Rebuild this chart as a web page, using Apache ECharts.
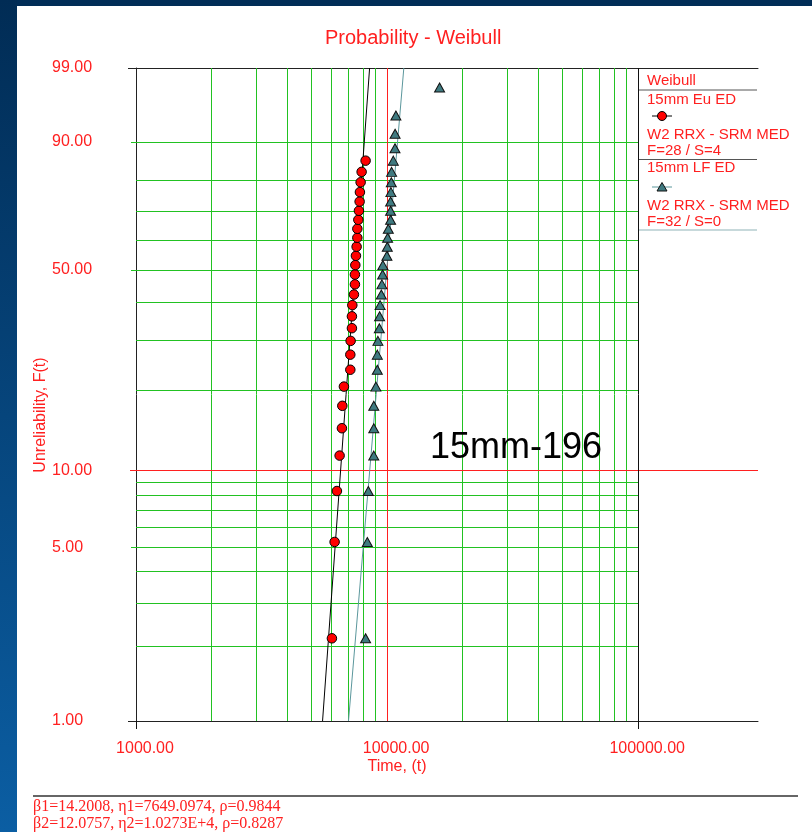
<!DOCTYPE html>
<html><head><meta charset="utf-8">
<script src="https://cdn.jsdelivr.net/npm/echarts@6/dist/echarts.min.js"></script>
<style>html,body{margin:0;padding:0;background:#fff;overflow:hidden}#c{width:812px;height:832px}</style>
</head><body><div id="c"></div>
<script>
// ---------------- data ----------------
const seriesNames = ['15mm Eu ED', '15mm LF ED'];
const seriesInfo = ['W2 RRX - SRM MED', 'W2 RRX - SRM MED'];
const seriesCounts = ['F=28 / S=4', 'F=32 / S=0'];
// failure times (t)
const euTime = [6029, 6180, 6312, 6470, 6608, 6632, 6730, 7137, 7137, 7157,
  7243, 7243, 7269, 7377, 7445, 7445, 7472, 7514, 7562, 7611,
  7611, 7681, 7723, 7773, 7794, 7845, 7917, 8211];
// unreliability F(t) in % (median ranks as plotted)
const euF = [2.16, 5.25, 8.33, 11.42, 14.51, 17.59, 20.68, 23.77, 26.85, 29.94,
  33.02, 36.11, 39.20, 42.28, 45.37, 48.46, 51.54, 54.63, 57.72, 60.80,
  63.89, 66.98, 70.06, 73.15, 76.23, 79.32, 82.41, 85.49];
const lfTime = [8211, 8341, 8418, 8850, 8850, 8850, 9025, 9141, 9141, 9192,
  9311, 9336, 9379, 9483, 9535, 9596, 9622, 9982, 10018, 10046,
  10111, 10326, 10326, 10326, 10355, 10393, 10421, 10585, 10750, 10760,
  10840, 16181];
const lfF = [2.16, 5.25, 8.33, 11.42, 14.51, 17.59, 20.68, 23.77, 26.85, 29.94,
  33.02, 36.11, 39.20, 42.28, 45.37, 48.46, 51.54, 54.63, 57.72, 60.80,
  63.89, 66.98, 70.06, 73.15, 76.23, 79.32, 82.41, 85.49, 88.58, 91.67,
  94.75, 97.84];
// Weibull fit parameters
const fitBeta = [14.2008, 12.0757];
const fitEta = [7649.0974, 10273];
const paramText = ['\u03b21=14.2008, \u03b71=7649.0974, \u03c1=0.9844',
                   '\u03b22=12.0757, \u03b72=1.0273E+4, \u03c1=0.8287'];
// axes
const xMin = 1000, xMax = 300000;
const xTickLabels = [1000, 10000, 100000];
const yTickLabels = [1, 5, 10, 50, 90, 99];
const xGridValues = [2000, 3000, 4000, 5000, 6000, 7000, 8000, 9000,
  20000, 30000, 40000, 50000, 60000, 70000, 80000, 90000];
const yGridValues = [2, 3, 4, 5, 6, 7, 8, 9, 20, 30, 40, 50, 60, 70, 80, 90];
const fLimits = [1, 99];

// ---------------- helpers ----------------
const wy = F => Math.log(-Math.log(1 - F / 100));      // Weibull probability scale
const invWy = v => (1 - Math.exp(-Math.exp(v))) * 100;
const fitTime = (b, eta, F) => eta * Math.pow(-Math.log(1 - F / 100), 1 / b);

const RED = '#ff2020', GREEN = '#22c222', TEAL = '#5b979c', TRI = '#3f7a80';
const FONT = '"Liberation Sans", Arial, sans-serif';
const yMin = wy(fLimits[0]), yMax = wy(fLimits[1]);

const euData = euTime.map((t, i) => [t, wy(euF[i])]);
const lfData = lfTime.map((t, i) => [t, wy(lfF[i])]);
const fit1 = fLimits.map(F => [fitTime(fitBeta[0], fitEta[0], F), wy(F)]);
const fit2 = fLimits.map(F => [fitTime(fitBeta[1], fitEta[1], F), wy(F)]);

const gridLines = [];
xGridValues.forEach(v => gridLines.push({ xAxis: v, lineStyle: { color: GREEN } }));
yGridValues.forEach(F => gridLines.push([
  { coord: [xMin, wy(F)], lineStyle: { color: GREEN } },
  { coord: [xTickLabels[2], wy(F)] }]));
gridLines.push({ xAxis: xTickLabels[1], lineStyle: { color: RED } });
gridLines.push({ yAxis: wy(10), lineStyle: { color: RED } });
gridLines.push({ xAxis: xTickLabels[2], lineStyle: { color: '#111' } });

const baseX = { type: 'log', logBase: 10, min: xMin, max: xMax, gridIndex: 0,
  splitLine: { show: false }, axisLabel: { show: false }, axisTick: { show: false }, axisLine: { show: false } };
const baseY = { type: 'value', min: yMin, max: yMax, gridIndex: 0, position: 'left',
  splitLine: { show: false }, axisLabel: { show: false }, axisTick: { show: false }, axisLine: { show: false } };

const chart = echarts.init(document.getElementById('c'), null, { renderer: 'canvas' });
chart.setOption({
  animation: false,
  backgroundColor: '#ffffff',
  title: { text: 'Probability - Weibull', left: 325, top: 28, padding: 0,
    textStyle: { color: RED, fontSize: 20, fontWeight: 'normal', fontFamily: FONT } },
  grid: { left: 136, top: 68, width: 622, height: 653, containLabel: false },
  xAxis: [
    Object.assign({}, baseX, { position: 'bottom',
      axisLine: { show: true, onZero: false, lineStyle: { color: '#222', width: 1 } },
      axisTick: { show: true, length: 8, customValues: [xTickLabels[0], xTickLabels[2]], lineStyle: { color: '#111' } },
      axisLabel: { show: true, customValues: xTickLabels, color: RED, fontSize: 16, fontFamily: FONT,
        margin: 20, padding: [0, 0, 0, 18], formatter: v => Number(v).toFixed(2) } }),
    Object.assign({}, baseX, { position: 'bottom',
      axisTick: { show: true, length: 8, customValues: [xTickLabels[1]], lineStyle: { color: RED } } }),
    Object.assign({}, baseX, { position: 'top',
      axisLine: { show: true, onZero: false, lineStyle: { color: '#222', width: 1 } } })
  ],
  yAxis: [
    Object.assign({}, baseY, {
      axisLine: { show: true, onZero: false, lineStyle: { color: '#222', width: 1 } },
      axisTick: { show: true, length: 8, customValues: [wy(1), wy(99)], lineStyle: { color: '#222' } },
      axisLabel: { show: true, customValues: yTickLabels.map(wy), color: RED, fontSize: 16, fontFamily: FONT,
        align: 'left', margin: 84, formatter: v => invWy(v).toFixed(2) } }),
    Object.assign({}, baseY, {
      axisTick: { show: true, length: 5, customValues: [wy(5), wy(50), wy(90)], lineStyle: { color: GREEN } } }),
    Object.assign({}, baseY, {
      axisTick: { show: true, length: 6, customValues: [wy(10)], lineStyle: { color: RED } } })
  ],
  series: [
    { name: 'fit1', type: 'line', data: fit1, symbol: 'none', z: 3, silent: true,
      lineStyle: { color: '#000', width: 1 },
      markLine: { z: 1, silent: true, symbol: 'none', label: { show: false }, animation: false,
        emphasis: { disabled: true }, lineStyle: { type: 'solid', width: 1 }, data: gridLines } },
    { name: 'fit2', type: 'line', data: fit2, symbol: 'none', z: 3, silent: true,
      lineStyle: { color: TEAL, width: 1 } },
    { name: seriesNames[0], type: 'scatter', data: euData, symbol: 'circle', symbolSize: 9.5, z: 5,
      itemStyle: { color: '#ff0000', borderColor: '#000', borderWidth: 1, opacity: 1 } },
    { name: seriesNames[1], type: 'scatter', data: lfData, symbol: 'triangle', symbolSize: [10, 9], z: 5,
      itemStyle: { color: TRI, borderColor: '#111', borderWidth: 1, opacity: 1 } }
  ],
  graphic: [
    // frame
    { type: 'rect', z: 100, silent: true, shape: { x: 0, y: 0, width: 812, height: 6 }, style: { fill: '#012d57' } },
    { type: 'rect', z: 100, silent: true, shape: { x: 0, y: 0, width: 17, height: 832 },
      style: { fill: new echarts.graphic.LinearGradient(0, 0, 0, 1, [
        { offset: 0, color: '#012c55' }, { offset: 1, color: '#0b5ea3' }]) } },
    // axis names
    { type: 'text', x: 41, y: 415, rotation: Math.PI / 2, silent: true,
      style: { text: 'Unreliability, F(t)', fill: RED, font: '16px ' + FONT, align: 'center', verticalAlign: 'middle' } },
    { type: 'text', x: 397, y: 767, silent: true,
      style: { text: 'Time, (t)', fill: RED, font: '16px ' + FONT, align: 'center', verticalAlign: 'middle' } },
    // annotation
    { type: 'text', x: 430, y: 448, z: 10, silent: true,
      style: { text: '15mm-196', fill: '#000', font: '36px ' + FONT, align: 'left', verticalAlign: 'middle' } },
    // legend
    { type: 'line', silent: true, shape: { x1: 639, y1: 90, x2: 757, y2: 90 }, style: { stroke: '#555', lineWidth: 1 } },
    { type: 'text', x: 647, y: 81, silent: true, style: { text: 'Weibull', fill: RED, font: '15px ' + FONT, verticalAlign: 'middle' } },
    { type: 'text', x: 647, y: 100, silent: true, style: { text: seriesNames[0], fill: RED, font: '15px ' + FONT, verticalAlign: 'middle' } },
    { type: 'line', silent: true, shape: { x1: 652, y1: 116, x2: 672, y2: 116 }, style: { stroke: '#000', lineWidth: 1 } },
    { type: 'circle', silent: true, shape: { cx: 662, cy: 116, r: 4.5 }, style: { fill: '#ff0000', stroke: '#000', lineWidth: 1 } },
    { type: 'text', x: 647, y: 135, silent: true, style: { text: seriesInfo[0], fill: RED, font: '15px ' + FONT, verticalAlign: 'middle' } },
    { type: 'text', x: 647, y: 151, silent: true, style: { text: seriesCounts[0], fill: RED, font: '15px ' + FONT, verticalAlign: 'middle' } },
    { type: 'line', silent: true, shape: { x1: 639, y1: 159.5, x2: 757, y2: 159.5 }, style: { stroke: '#555', lineWidth: 1 } },
    { type: 'text', x: 647, y: 168, silent: true, style: { text: seriesNames[1], fill: RED, font: '15px ' + FONT, verticalAlign: 'middle' } },
    { type: 'line', silent: true, shape: { x1: 652, y1: 187, x2: 672, y2: 187 }, style: { stroke: TEAL, lineWidth: 1 } },
    { type: 'polygon', silent: true, shape: { points: [[662, 182.5], [667, 191], [657, 191]] }, style: { fill: TRI, stroke: '#111', lineWidth: 1 } },
    { type: 'text', x: 647, y: 205.5, silent: true, style: { text: seriesInfo[1], fill: RED, font: '15px ' + FONT, verticalAlign: 'middle' } },
    { type: 'text', x: 647, y: 221.5, silent: true, style: { text: seriesCounts[1], fill: RED, font: '15px ' + FONT, verticalAlign: 'middle' } },
    { type: 'line', silent: true, shape: { x1: 639, y1: 230, x2: 757, y2: 230 }, style: { stroke: '#8fb3b7', lineWidth: 1 } },
    // bottom parameters
    { type: 'line', silent: true, shape: { x1: 33, y1: 796, x2: 798, y2: 796 }, style: { stroke: '#333', lineWidth: 1.5 } },
    { type: 'text', x: 33, y: 807, silent: true, style: { text: paramText[0], fill: RED, font: '16px "Liberation Serif", "Times New Roman", serif', verticalAlign: 'middle' } },
    { type: 'text', x: 33, y: 824, silent: true, style: { text: paramText[1], fill: RED, font: '16px "Liberation Serif", "Times New Roman", serif', verticalAlign: 'middle' } }
  ]
});
</script></body></html>
